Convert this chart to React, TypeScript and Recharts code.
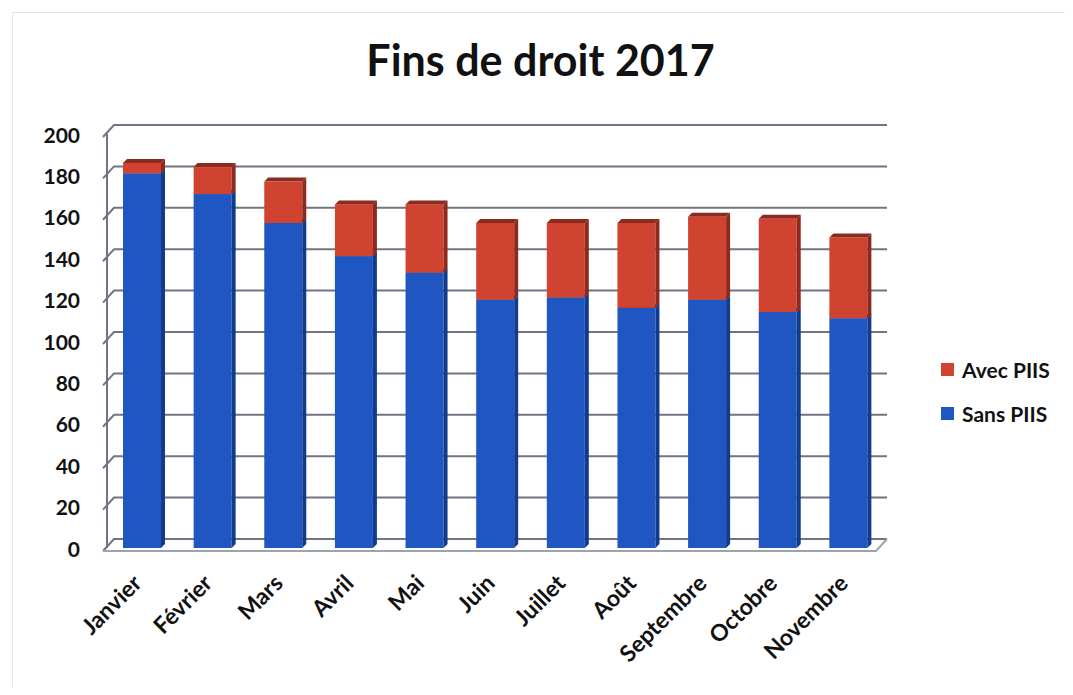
import React from "react"
import { BarChart, Bar, XAxis, YAxis, CartesianGrid, Legend } from "recharts"

const months = ["Janvier", "Février", "Mars", "Avril", "Mai", "Juin", "Juillet", "Août", "Septembre", "Octobre", "Novembre"]
const sansPiis = [181, 171, 157, 141, 133, 120, 121, 116, 120, 114, 111]
const avecPiis = [5, 13, 20, 25, 33, 37, 36, 41, 40, 45, 39]
const yTicks = [0, 20, 40, 60, 80, 100, 120, 140, 160, 180, 200]

const FONT = "Lato, 'Open Sans', sans-serif"
const W = 1073
const H = 695
const PLOT_TOP = 134
const PLOT_BOTTOM = 548
const PLOT_LEFT = 107
const PLOT_RIGHT = 884
const DEPTH = 4

const BLUE = "#1f56c2"
const BLUE_DARK = "#123b8c"
const RED = "#cf4330"
const RED_DARK = "#8c2a1d"

const chartData = months.map((m, i) => ({ month: m, sans: sansPiis[i], avec: avecPiis[i] }))

// front face + right side + top, to look like the 3D columns
function makeBox(front: string, side: string) {
  return (props: any) => {
    const { x, y, width, height } = props
    if (!height || height <= 0) return null
    const d = DEPTH
    return (
      <g>
        <rect x={x} y={y} width={width} height={height} fill={front} />
        <polygon points={`${x + width},${y} ${x + width + d},${y - d} ${x + width + d},${y + height - d} ${x + width},${y + height}`} fill={side} />
        <polygon points={`${x},${y} ${x + d},${y - d} ${x + width + d},${y - d} ${x + width},${y}`} fill={side} />
      </g>
    )
  }
}

function gridLine(props: any) {
  const { x1, x2, y1, index } = props
  const y = y1
  const isFloor = Math.abs(y - PLOT_BOTTOM) < 1
  return (
    <g key={`g-${index}`}>
      <path d={`M${x1 - 4},${y + 3} L${x1 + 7},${y - 9} L${x2 + 3},${y - 9}`} fill="none" stroke="#6f7582" strokeWidth={2} />
      {isFloor && (
        <path d={`M${x1 - 4},${y + 3} L${x2 - 8},${y + 3} L${x2 + 3},${y - 9}`} fill="none" stroke="#9aa3b0" strokeWidth={2} />
      )}
    </g>
  )
}

function YTick(props: any) {
  const { y, payload } = props
  return (
    <text x={80} y={y} textAnchor="end" dominantBaseline="central" fontFamily={FONT} fontWeight={700} fontSize={21} fill="#111">
      {payload.value}
    </text>
  )
}

function XTick(props: any) {
  const { x, payload } = props
  return (
    <text
      transform={`translate(${x - 5},${579}) rotate(-45)`}
      textAnchor="end"
      dy="0.35em"
      fontFamily={FONT}
      fontWeight={700}
      fontSize={23}
      fill="#111"
    >
      {payload.value}
    </text>
  )
}

function LegendContent() {
  const items = [
    { label: "Avec PIIS", color: RED },
    { label: "Sans PIIS", color: BLUE },
  ]
  return (
    <div style={{ fontFamily: FONT, fontWeight: 700, fontSize: 21, color: "#111" }}>
      {items.map((it) => (
        <div key={it.label} style={{ display: "flex", alignItems: "center", height: 44 }}>
          <span style={{ display: "inline-block", width: 13, height: 13, background: it.color, marginRight: 8 }} />
          {it.label}
        </div>
      ))}
    </div>
  )
}

export default function App() {
  return (
    <div style={{ position: "relative", width: W, height: H, margin: -8, background: "#fff", overflow: "hidden" }}>
      <div
        style={{
          position: "absolute",
          left: 12,
          top: 12,
          width: 1055,
          height: 677,
          border: "1px solid #e4e6ea",
          borderBottom: "3px solid #b9bcc2",
        }}
      />
      <div
        style={{
          position: "absolute",
          left: 0,
          width: 1073,
          top: 34,
          textAlign: "center",
          fontFamily: FONT,
          fontWeight: 700,
          fontSize: 43,
          color: "#111",
          paddingLeft: 4,
        }}
      >
        Fins de droit 2017
      </div>
      <div style={{ position: "absolute", left: 0, top: 0 }}>
        <BarChart
          width={W}
          height={H}
          data={chartData}
          margin={{ top: PLOT_TOP, bottom: 0, left: 0, right: W - PLOT_RIGHT }}
          barSize={38}
        >
          <CartesianGrid vertical={false} horizontal={gridLine} />
          <XAxis
            dataKey="month"
            axisLine={false}
            tickLine={false}
            interval={0}
            height={H - PLOT_BOTTOM}
            tick={<XTick />}
          />
          <YAxis
            width={PLOT_LEFT}
            domain={[0, 200]}
            ticks={yTicks}
            interval={0}
            axisLine={{ stroke: "#6f7582", strokeWidth: 2 }}
            tickLine={false}
            tick={<YTick />}
          />
          <Legend
            layout="horizontal"
            verticalAlign="middle"
            align="center"
            content={<LegendContent />}
            wrapperStyle={{ left: 941, top: 347, width: 130 }}
          />
          <Bar dataKey="sans" name="Sans PIIS" stackId="a" fill={BLUE} shape={makeBox(BLUE, BLUE_DARK)} isAnimationActive={false} />
          <Bar dataKey="avec" name="Avec PIIS" stackId="a" fill={RED} shape={makeBox(RED, RED_DARK)} isAnimationActive={false} />
        </BarChart>
      </div>
    </div>
  )
}
